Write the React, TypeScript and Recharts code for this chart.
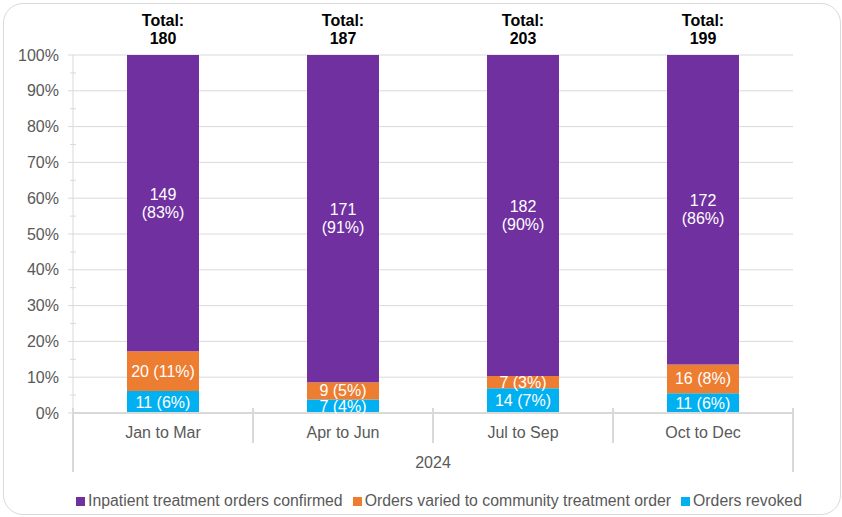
import React from "react";
import {
  BarChart,
  Bar,
  XAxis,
  YAxis,
  CartesianGrid,
  Legend,
  LabelList,
} from "recharts";

const quarters = ["Jan to Mar", "Apr to Jun", "Jul to Sep", "Oct to Dec"];
const confirmed = [149, 171, 182, 172];
const varied = [20, 9, 7, 16];
const revoked = [11, 7, 14, 11];
const yearLabel = "2024";
const yTicks = [0, 5, 10, 15, 20, 25, 30, 35, 40, 45, 50, 55, 60, 65, 70, 75, 80, 85, 90, 95, 100];

const seriesNames = {
  confirmed: "Inpatient treatment orders confirmed",
  varied: "Orders varied to community treatment order",
  revoked: "Orders revoked",
};

const colors = {
  confirmed: "#7030A0",
  varied: "#ED7D31",
  revoked: "#00B0F0",
};

const data = quarters.map((q, i) => ({
  quarter: q,
  confirmed: confirmed[i],
  varied: varied[i],
  revoked: revoked[i],
}));

const totals = quarters.map((_, i) => confirmed[i] + varied[i] + revoked[i]);
const pct = (v: number, i: number) => Math.round((v / totals[i]) * 100);

const FONT = '"Liberation Sans", Arial, sans-serif';
const FS = 16;
const TEXT = "#595959";
const GRID = "#d9d9d9";
const PLOT_W = 720;
const BAND = PLOT_W / quarters.length;

function YTick(props: any) {
  const { x, y, payload } = props;
  const v = Math.round(payload.value * 100);
  const major = v % 10 === 0;
  return (
    <g>
      {major ? (
        <line x1={x - 5} x2={x} y1={y} y2={y} stroke={GRID} />
      ) : (
        <line x1={x - 3} x2={x + 3} y1={y} y2={y} stroke={GRID} />
      )}
      {major && (
        <text
          x={x - 14}
          y={y}
          textAnchor="end"
          dominantBaseline="central"
          fill={TEXT}
          fontSize={FS}
          fontFamily={FONT}
        >
          {v}%
        </text>
      )}
    </g>
  );
}

function XTick(props: any) {
  const { x, y, payload, index } = props;
  const last = index === quarters.length - 1;
  return (
    <g>
      <line
        x1={x - BAND / 2}
        x2={x - BAND / 2}
        y1={y - 5}
        y2={index === 0 ? y + 59 : y + 30}
        stroke={GRID}
        strokeWidth={2}
      />
      {last && (
        <line x1={x + BAND / 2} x2={x + BAND / 2} y1={y - 5} y2={y + 59} stroke={GRID} strokeWidth={2} />
      )}
      <text
        x={x}
        y={y + 19}
        textAnchor="middle"
        dominantBaseline="central"
        fill={TEXT}
        fontSize={FS}
        fontFamily={FONT}
      >
        {payload.value}
      </text>
      {index === 0 && (
        <text
          x={x - BAND / 2 + PLOT_W / 2}
          y={y + 49}
          textAnchor="middle"
          dominantBaseline="central"
          fill={TEXT}
          fontSize={FS}
          fontFamily={FONT}
        >
          {yearLabel}
        </text>
      )}
    </g>
  );
}

function segLabel(values: number[]) {
  return (props: any) => {
    const { x, y, width, height, index } = props;
    const v = values[index];
    return (
      <text
        x={x + width / 2}
        y={y + height / 2}
        textAnchor="middle"
        dominantBaseline="central"
        fill="#ffffff"
        fontSize={FS}
        fontFamily={FONT}
      >
        {v} ({pct(v, index)}%)
      </text>
    );
  };
}

function ConfirmedLabel(props: any) {
  const { x, y, width, height, index } = props;
  const v = confirmed[index];
  const cx = x + width / 2;
  const cy = y + height / 2;
  return (
    <g fontFamily={FONT}>
      <text x={cx} y={cy - 9} textAnchor="middle" dominantBaseline="central" fill="#fff" fontSize={FS}>
        {v}
      </text>
      <text x={cx} y={cy + 9} textAnchor="middle" dominantBaseline="central" fill="#fff" fontSize={FS}>
        ({pct(v, index)}%)
      </text>
      <text x={cx} y={y - 35} textAnchor="middle" dominantBaseline="central" fill="#000" fontSize={FS} fontWeight="bold">
        Total:
      </text>
      <text x={cx} y={y - 17} textAnchor="middle" dominantBaseline="central" fill="#000" fontSize={FS} fontWeight="bold">
        {totals[index]}
      </text>
    </g>
  );
}

function LegendContent() {
  const keys: (keyof typeof seriesNames)[] = ["confirmed", "varied", "revoked"];
  return (
    <div
      style={{
        display: "flex",
        justifyContent: "flex-start",
        alignItems: "center",
        paddingLeft: 76,
        height: 24,
        fontFamily: FONT,
        fontSize: 15.8,
        color: TEXT,
      }}
    >
      {keys.map((k) => (
        <span key={k} style={{ display: "flex", alignItems: "center", marginRight: 10, whiteSpace: "nowrap" }}>
          <span style={{ width: 9, height: 9, background: colors[k], marginRight: 3, display: "inline-block" }} />
          {seriesNames[k]}
        </span>
      ))}
    </div>
  );
}

export default function App() {
  return (
    <div style={{ position: "absolute", left: 0, top: 0, width: 842, height: 517, background: "#fff" }}>
      <div
        style={{
          position: "absolute",
          left: 3,
          top: 3,
          width: 838,
          height: 512,
          border: `1px solid ${GRID}`,
          borderRadius: 20,
          boxSizing: "border-box",
        }}
      />
      <BarChart
        width={842}
        height={517}
        data={data}
        stackOffset="expand"
        barSize={72}
        margin={{ top: 55, right: 49, left: 0, bottom: 20 }}
      >
        <CartesianGrid
          vertical={false}
          stroke={GRID}
          horizontalValues={[0, 0.1, 0.2, 0.3, 0.4, 0.5, 0.6, 0.7, 0.8, 0.9, 1]}
        />
        <XAxis
          dataKey="quarter"
          height={60}
          interval={0}
          tickLine={false}
          tickSize={0}
          tickMargin={0}
          axisLine={{ stroke: GRID, strokeWidth: 2 }}
          tick={<XTick />}
        />
        <YAxis
          width={73}
          type="number"
          domain={[0, 1]}
          ticks={yTicks.map((t) => t / 100)}
          interval={0}
          tickLine={false}
          tickSize={0}
          tickMargin={0}
          axisLine={{ stroke: GRID }}
          tick={<YTick />}
        />
        <Legend
          verticalAlign="bottom"
          wrapperStyle={{ top: 489, left: 0, width: 842 }}
          content={<LegendContent />}
        />
        <Bar dataKey="revoked" stackId="a" fill={colors.revoked} isAnimationActive={false}>
          <LabelList dataKey="revoked" content={segLabel(revoked)} />
        </Bar>
        <Bar dataKey="varied" stackId="a" fill={colors.varied} isAnimationActive={false}>
          <LabelList dataKey="varied" content={segLabel(varied)} />
        </Bar>
        <Bar dataKey="confirmed" stackId="a" fill={colors.confirmed} isAnimationActive={false}>
          <LabelList dataKey="confirmed" content={ConfirmedLabel} />
        </Bar>
      </BarChart>
    </div>
  );
}
